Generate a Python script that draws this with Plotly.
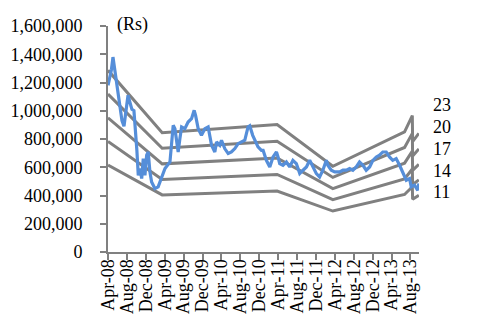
import plotly.graph_objects as go

# Share price (Rs)
price_dates = [
    "2008-04-01", "2008-04-14", "2008-04-23", "2008-05-03", "2008-05-13", "2008-05-26",
    "2008-06-08", "2008-06-17", "2008-06-30", "2008-07-13", "2008-07-26", "2008-08-08",
    "2008-08-20", "2008-09-02", "2008-09-15", "2008-09-25", "2008-10-04", "2008-10-13",
    "2008-10-24", "2008-11-04", "2008-11-14", "2008-11-25", "2008-12-06", "2008-12-16",
    "2008-12-27", "2009-01-07", "2009-01-28", "2009-02-18", "2009-03-12", "2009-04-03",
    "2009-05-05", "2009-05-16", "2009-05-26", "2009-06-06", "2009-06-27", "2009-07-08",
    "2009-07-19", "2009-08-09", "2009-08-30", "2009-09-21", "2009-10-08", "2009-10-17",
    "2009-11-03", "2009-11-24", "2009-12-16", "2010-01-06", "2010-01-17", "2010-01-28",
    "2010-02-18", "2010-03-01", "2010-03-22", "2010-04-02", "2010-04-23", "2010-05-15",
    "2010-06-05", "2010-06-27", "2010-07-18", "2010-08-09", "2010-08-30", "2010-09-20",
    "2010-10-01", "2010-10-20", "2010-11-09", "2010-11-23", "2010-12-15", "2010-12-26",
    "2011-01-16", "2011-02-07", "2011-02-28", "2011-03-22", "2011-04-01", "2011-04-12",
    "2011-05-03", "2011-05-25", "2011-06-15", "2011-07-06", "2011-07-28", "2011-08-19",
    "2011-09-09", "2011-10-01", "2011-10-22", "2011-11-12", "2011-12-04", "2011-12-25",
    "2012-01-15", "2012-02-06", "2012-02-16", "2012-03-09", "2012-03-31", "2012-05-02",
    "2012-05-23", "2012-06-14", "2012-07-05", "2012-07-26", "2012-08-17", "2012-09-07",
    "2012-09-29", "2012-10-20", "2012-11-11", "2012-12-02", "2012-12-24", "2013-01-14",
    "2013-02-04", "2013-02-26", "2013-03-19", "2013-04-09", "2013-05-01", "2013-05-23",
    "2013-06-13", "2013-07-05", "2013-07-26", "2013-08-06", "2013-08-27", "2013-09-17",
    "2013-09-24",
]
price_values = [
    1180000, 1240000, 1290000, 1380000, 1300000, 1190000,
    1080000, 1000000, 930000, 890000, 1000000, 1110000,
    1060000, 1010000, 1000000, 880000, 720000, 543000,
    591000, 520000, 661000, 543000, 685000, 708000,
    567000, 496000, 449000, 461000, 520000, 591000,
    637000, 755000, 897000, 873000, 708000, 803000,
    885000, 873000, 920000, 944000, 1003000, 967000,
    873000, 826000, 873000, 885000, 826000, 755000,
    708000, 779000, 755000, 791000, 732000, 697000,
    708000, 732000, 767000, 779000, 791000, 885000,
    893000, 826000, 779000, 744000, 720000, 720000,
    649000, 602000, 673000, 708000, 673000, 626000,
    614000, 637000, 602000, 649000, 626000, 555000,
    579000, 602000, 649000, 602000, 555000, 531000,
    579000, 649000, 614000, 579000, 567000, 567000,
    579000, 579000, 591000, 579000, 602000, 637000,
    614000, 579000, 602000, 649000, 673000, 685000,
    708000, 708000, 673000, 649000, 661000, 614000,
    555000, 508000, 520000, 461000, 473000, 437000,
    485000,
]

# P/E band lines (Rs)
band_dates = ["2008-04-01", "2009-03-16", "2011-03-26", "2012-03-19",
              "2013-06-24", "2013-08-13", "2013-08-15", "2013-09-24"]
band_labels = ["23", "20", "17", "14", "11"]
band_23 = [1286000, 844000, 902000, 607000, 851000, 966000, 782000, 840000]
band_20 = [1118000, 734000, 784000, 528000, 740000, 840000, 680000, 730000]
band_17 = [950000, 624000, 666000, 449000, 629000, 714000, 578000, 621000]
band_14 = [783000, 514000, 549000, 370000, 518000, 588000, 476000, 511000]
band_11 = [615000, 404000, 431000, 290000, 407000, 462000, 374000, 402000]

# Axis ticks
y_ticks = [0, 200000, 400000, 600000, 800000, 1000000, 1200000, 1400000, 1600000]

FONT = "Liberation Serif, Times New Roman, serif"
GREY = "#808080"

fig = go.Figure()
for vals in [band_11, band_14, band_17, band_20, band_23]:
    fig.add_trace(go.Scatter(x=band_dates, y=vals, mode="lines",
                             line=dict(color=GREY, width=3), showlegend=False,
                             hoverinfo="skip"))
fig.add_trace(go.Scatter(x=price_dates, y=price_values, mode="lines",
                         line=dict(color="#558ed9", width=3.2), showlegend=False))

# right-side band labels
label_y = [0.650, 0.553, 0.456, 0.359, 0.266]
for txt, yy in zip(band_labels, label_y):
    fig.add_annotation(text=txt, xref="paper", yref="paper", x=1.04, y=yy,
                       xanchor="left", yanchor="middle", showarrow=False,
                       font=dict(family=FONT, size=18, color="black"))
fig.add_annotation(text="(Rs)", xref="paper", yref="paper", x=0.022, y=1.005,
                   xanchor="left", yanchor="middle", showarrow=False,
                   font=dict(family=FONT, size=18, color="black"))

# page body has an 8px default margin, so the figure is 8px smaller each way
fig.update_layout(
    width=473, height=314,
    margin=dict(l=100, r=62, t=18, b=70, autoexpand=False),
    paper_bgcolor="white", plot_bgcolor="white",
    font=dict(family=FONT, size=18, color="black"),
    showlegend=False,
)
fig.update_xaxes(
    type="date", range=["2008-04-01", "2013-09-25"], automargin=False,
    tick0="2008-04-01", dtick="M4", tickformat="%b-%y", tickangle=-90,
    showgrid=False, zeroline=False, showline=True, linecolor=GREY, linewidth=2,
    ticks="outside", ticklen=6, tickcolor=GREY, tickwidth=2, ticklabelstandoff=-8,
    tickfont=dict(family=FONT, size=18, color="black"),
)
fig.update_yaxes(
    range=[0, 1600000], tickvals=y_ticks, tickformat=",", automargin=False,
    showgrid=False, zeroline=False, showline=True, linecolor=GREY, linewidth=2,
    ticks="outside", ticklen=6, tickcolor=GREY, tickwidth=2, ticklabelstandoff=14,
    tickfont=dict(family=FONT, size=18, color="black"),
)

fig.write_html("out.html")
